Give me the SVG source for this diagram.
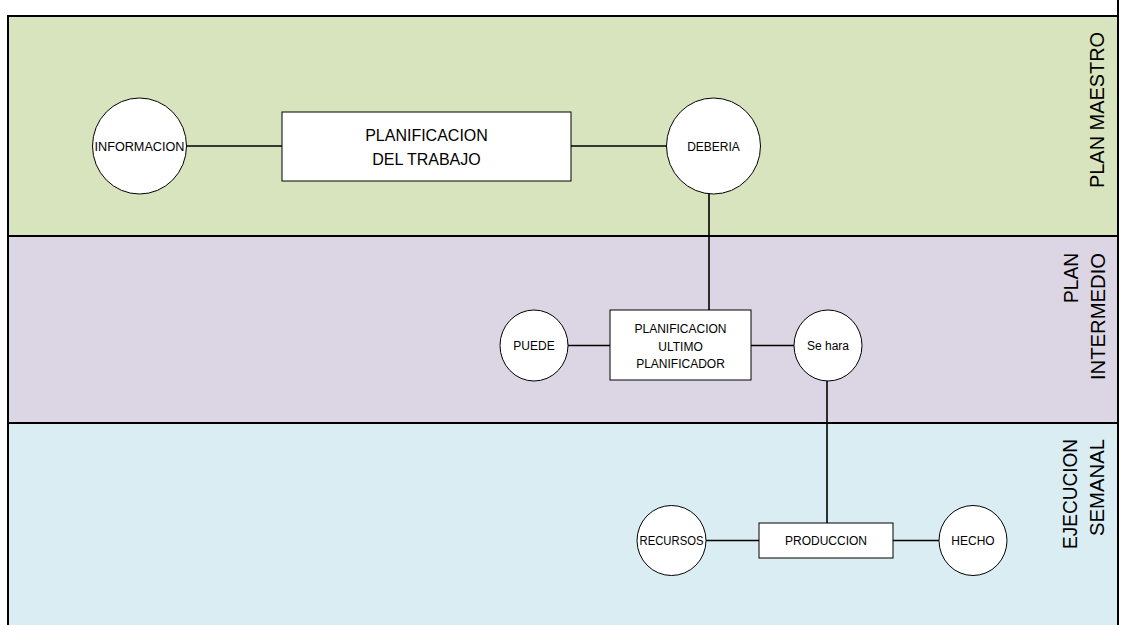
<svg xmlns="http://www.w3.org/2000/svg" width="1125" height="625" viewBox="0 0 1125 625">
<style>
.lane-label{font-family:"Liberation Sans",Arial,sans-serif;font-size:20px;fill:#000;text-anchor:end}
.node-shape{fill:#fff;stroke:#000;stroke-width:1}
.t{font-family:"Liberation Sans",Arial,sans-serif;font-size:12px;fill:#000;text-anchor:middle}
.tb{font-family:"Liberation Sans",Arial,sans-serif;font-size:16px;fill:#000;text-anchor:middle}
.conn{stroke:#000;stroke-width:1.6;fill:none}
.border{stroke:#000;stroke-width:2;fill:none}
</style>
<rect width="1125" height="625" fill="#fff"/>
<g id="lanes">
<rect x="8" y="16" width="1110" height="220" fill="#D7E4BD"/>
<rect x="8" y="236" width="1110" height="187" fill="#DCD6E4"/>
<rect x="8" y="423" width="1110" height="202" fill="#DAEDF3"/>
<line class="border" x1="7" y1="16" x2="1119" y2="16"/>
<line class="border" x1="8" y1="16" x2="8" y2="625"/>
<line class="border" x1="1118" y1="0" x2="1118" y2="625"/>
<line class="border" x1="7" y1="236" x2="1118" y2="236"/>
<line class="border" x1="7" y1="423" x2="1118" y2="423"/>
<text class="lane-label" transform="translate(1104,32) rotate(-90)" textLength="156" lengthAdjust="spacingAndGlyphs">PLAN MAESTRO</text>
<text class="lane-label" transform="translate(1078,253) rotate(-90)" textLength="50" lengthAdjust="spacingAndGlyphs">PLAN</text>
<text class="lane-label" transform="translate(1105,253) rotate(-90)" textLength="127" lengthAdjust="spacingAndGlyphs">INTERMEDIO</text>
<text class="lane-label" transform="translate(1077,439) rotate(-90)" textLength="110" lengthAdjust="spacingAndGlyphs">EJECUCION</text>
<text class="lane-label" transform="translate(1104,439) rotate(-90)" textLength="97" lengthAdjust="spacingAndGlyphs">SEMANAL</text>
</g>
<g id="connectors">
<line class="conn" x1="186" y1="146" x2="282" y2="146"/>
<line class="conn" x1="571" y1="146" x2="667" y2="146"/>
<line class="conn" x1="709" y1="194" x2="709" y2="310"/>
<line class="conn" x1="568" y1="345.5" x2="610" y2="345.5"/>
<line class="conn" x1="751" y1="345.5" x2="794" y2="345.5"/>
<line class="conn" x1="827" y1="381" x2="827" y2="523"/>
<line class="conn" x1="706" y1="540.5" x2="759" y2="540.5"/>
<line class="conn" x1="893" y1="540.5" x2="939" y2="540.5"/>
</g>
<g id="informacion">
<ellipse class="node-shape" cx="139.5" cy="146" rx="47" ry="48"/>
<text class="t" x="139.5" y="150.5" textLength="90" lengthAdjust="spacingAndGlyphs">INFORMACION</text>
</g>
<g id="planificacion-trabajo">
<rect class="node-shape" x="282" y="112" width="289" height="69"/>
<text class="tb" x="426.5" y="141">PLANIFICACION</text>
<text class="tb" x="426.5" y="165">DEL TRABAJO</text>
</g>
<g id="deberia">
<ellipse class="node-shape" cx="713.5" cy="146" rx="47" ry="48"/>
<text class="t" x="713.5" y="150.5">DEBERIA</text>
</g>
<g id="puede">
<ellipse class="node-shape" cx="534" cy="345.5" rx="34" ry="35.5"/>
<text class="t" x="534" y="350">PUEDE</text>
</g>
<g id="planificacion-ultimo">
<rect class="node-shape" x="610" y="310" width="141" height="70"/>
<text class="t" x="680.5" y="333">PLANIFICACION</text>
<text class="t" x="680.5" y="350.5">ULTIMO</text>
<text class="t" x="680.5" y="368">PLANIFICADOR</text>
</g>
<g id="se-hara">
<ellipse class="node-shape" cx="828" cy="345.5" rx="34" ry="35.5"/>
<text class="t" x="828" y="350">Se hara</text>
</g>
<g id="recursos">
<ellipse class="node-shape" cx="671.5" cy="540.5" rx="34.5" ry="35"/>
<text class="t" x="671.5" y="545" textLength="64" lengthAdjust="spacingAndGlyphs">RECURSOS</text>
</g>
<g id="produccion">
<rect class="node-shape" x="759" y="523" width="134" height="35"/>
<text class="t" x="826" y="545">PRODUCCION</text>
</g>
<g id="hecho">
<ellipse class="node-shape" cx="973" cy="540.5" rx="34" ry="35"/>
<text class="t" x="973" y="545">HECHO</text>
</g>
</svg>
